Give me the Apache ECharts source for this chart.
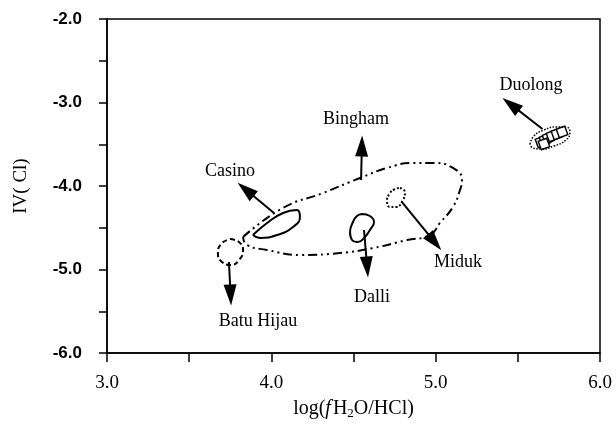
<!DOCTYPE html>
<html>
<head>
<meta charset="utf-8">
<script src="https://cdn.jsdelivr.net/npm/echarts@6/dist/echarts.min.js"></script>
<style>
  html, body { margin: 0; padding: 0; background: #fff; }
  #chart { width: 616px; height: 437px; }
</style>
</head>
<body>
<div id="chart"></div>
<script>
// Discrimination plot: IV(Cl) vs log(fH2O/HCl) for porphyry deposits.
// Outlines of each deposit field as [log(fH2O/HCl), IV(Cl)] points.
var binghamField = [
  [3.828, -4.611], [4.071, -4.263], [4.314, -4.084], [4.540, -3.904],
  [4.704, -3.784], [4.862, -3.725], [4.984, -3.725], [5.105, -3.784],
  [5.160, -3.928], [5.148, -4.048], [5.105, -4.251], [5.026, -4.443],
  [4.966, -4.587], [4.826, -4.647], [4.619, -4.743], [4.418, -4.802],
  [4.174, -4.826], [3.974, -4.766], [3.852, -4.707], [3.828, -4.611]
];
var casinoField = [
  [3.888, -4.587], [3.974, -4.443], [4.071, -4.323], [4.156, -4.287],
  [4.174, -4.371], [4.132, -4.491], [4.035, -4.587], [3.931, -4.623],
  [3.888, -4.587]
];
var batuHijauField = [
  [3.749, -4.635], [3.803, -4.671], [3.828, -4.766], [3.809, -4.874],
  [3.755, -4.946], [3.700, -4.910], [3.675, -4.814], [3.694, -4.695],
  [3.749, -4.635]
];
var dalliField = [
  [4.552, -4.335], [4.600, -4.359], [4.625, -4.431], [4.600, -4.527],
  [4.564, -4.623], [4.527, -4.671], [4.491, -4.647], [4.479, -4.551],
  [4.497, -4.431], [4.521, -4.359], [4.552, -4.335]
];
var midukField = [
  [4.783, -4.024], [4.813, -4.072], [4.801, -4.168], [4.759, -4.251],
  [4.722, -4.251], [4.704, -4.180], [4.722, -4.084], [4.753, -4.036],
  [4.783, -4.024]
];
var duolongField = [
  [5.574, -3.497], [5.598, -3.401], [5.659, -3.329], [5.732, -3.293],
  [5.793, -3.293], [5.817, -3.353], [5.793, -3.449], [5.720, -3.521],
  [5.647, -3.557], [5.592, -3.545], [5.574, -3.497]
];
// Individual Duolong samples
var duolongSamples = [
  [5.641, -3.473], [5.665, -3.449], [5.684, -3.425], [5.708, -3.401],
  [5.738, -3.377], [5.769, -3.353], [5.659, -3.497]
];

// Deposit names, label anchors and arrows (start -> end of shaft)
var depositNames = ['Duolong', 'Bingham', 'Casino', 'Miduk', 'Dalli', 'Batu Hijau'];
var labelAnchors = [
  [5.580, -2.790], [4.515, -3.198], [3.749, -3.820],
  [5.136, -4.910], [4.613, -5.329], [3.919, -5.617]
];
var arrowStarts = [
  [5.650, -3.317], [4.546, -3.928], [4.016, -4.323],
  [4.795, -4.192], [4.564, -4.527], [3.742, -4.910]
];
var arrowEnds = [
  [5.457, -3.022], [4.551, -3.521], [3.844, -4.041],
  [4.994, -4.673], [4.583, -4.970], [3.752, -5.305]
];

// Axis ranges and tick labels
var xRange = [3, 6];
var yRange = [-6, -2];
var xTickLabels = ['3.0', '4.0', '5.0', '6.0'];
var yTickLabels = ['-6.0', '-5.0', '-4.0', '-3.0', '-2.0'];

var serif = '"Liberation Serif", "Times New Roman", serif';
var sans = '"Liberation Sans", Arial, sans-serif';

function fieldSeries(data, dash, width) {
  return {
    type: 'line',
    data: data,
    smooth: 0.5,
    symbol: 'none',
    silent: true,
    lineStyle: { color: '#000', width: width, type: dash }
  };
}

var arrowLines = arrowStarts.map(function (s, i) {
  return [{ coord: s }, { coord: arrowEnds[i] }];
});

var chart = echarts.init(document.getElementById('chart'), null, { renderer: 'canvas' });
chart.setOption({
  animation: false,
  backgroundColor: '#fff',
  grid: {
    left: 107, right: 16, top: 19, bottom: 84,
    show: true, borderColor: '#000', borderWidth: 1.5, backgroundColor: 'transparent'
  },
  xAxis: {
    type: 'value',
    min: xRange[0], max: xRange[1], interval: 1,
    name: '{a|log(}{i|f}{a|H}{s|2}{a|O/HCl)}',
    nameLocation: 'middle',
    nameGap: 44,
    nameTextStyle: {
      color: '#000',
      rich: {
        a: { fontFamily: serif, fontSize: 20, color: '#000' },
        i: { fontFamily: serif, fontSize: 20, fontStyle: 'italic', color: '#000', padding: [0, 2, 0, 0] },
        s: { fontFamily: serif, fontSize: 13, color: '#000', verticalAlign: 'bottom', padding: [10, 0, 0, 0] }
      }
    },
    axisLine: { lineStyle: { color: '#000', width: 1.5 } },
    axisTick: { inside: false, length: 9, lineStyle: { color: '#000', width: 1.5 } },
    minorTick: { show: true, splitNumber: 2, length: 9, lineStyle: { color: '#000', width: 1.5 } },
    splitLine: { show: false },
    axisLabel: {
      margin: 21,
      color: '#000',
      fontFamily: serif,
      fontSize: 19,
      formatter: function (v) { return xTickLabels[Math.round(v - xRange[0])]; }
    }
  },
  yAxis: {
    type: 'value',
    min: yRange[0], max: yRange[1], interval: 1,
    name: 'IV( Cl)',
    nameLocation: 'middle',
    nameGap: 76,
    nameTextStyle: { color: '#000', fontFamily: serif, fontSize: 19 },
    axisLine: { lineStyle: { color: '#000', width: 1.5 } },
    axisTick: { inside: false, length: 8, lineStyle: { color: '#000', width: 1.5 } },
    minorTick: { show: true, splitNumber: 2, length: 8, lineStyle: { color: '#000', width: 1.5 } },
    splitLine: { show: false },
    axisLabel: {
      margin: 25,
      color: '#000',
      fontFamily: sans,
      fontSize: 17,
      fontWeight: 'bold',
      formatter: function (v) { return yTickLabels[Math.round(v - yRange[0])]; }
    }
  },
  series: [
    fieldSeries(binghamField, [9, 4, 2, 4, 2, 4], 2),
    fieldSeries(casinoField, 'solid', 2),
    fieldSeries(batuHijauField, [5, 3], 2),
    fieldSeries(dalliField, 'solid', 2),
    fieldSeries(midukField, [2, 2], 2),
    fieldSeries(duolongField, [1.5, 1.5], 1.5),
    {
      type: 'scatter',
      data: duolongSamples,
      symbol: 'rect',
      symbolSize: 9,
      symbolRotate: 20,
      silent: true,
      itemStyle: { color: '#fff', borderColor: '#000', borderWidth: 1.4, opacity: 1 }
    },
    {
      type: 'scatter',
      data: labelAnchors.map(function (p, i) { return { value: p, name: depositNames[i] }; }),
      symbolSize: 0,
      silent: true,
      itemStyle: { opacity: 1 },
      label: {
        show: true,
        position: 'inside',
        formatter: '{b}',
        color: '#000',
        fontFamily: serif,
        fontSize: 18
      },
      markLine: {
        silent: true,
        symbol: ['none', 'triangle'],
        symbolSize: [13, 21],
        label: { show: false },
        lineStyle: { color: '#000', width: 2, type: 'solid', opacity: 1 },
        itemStyle: { color: '#000' },
        data: arrowLines
      }
    }
  ]
});
</script>
</body>
</html>
